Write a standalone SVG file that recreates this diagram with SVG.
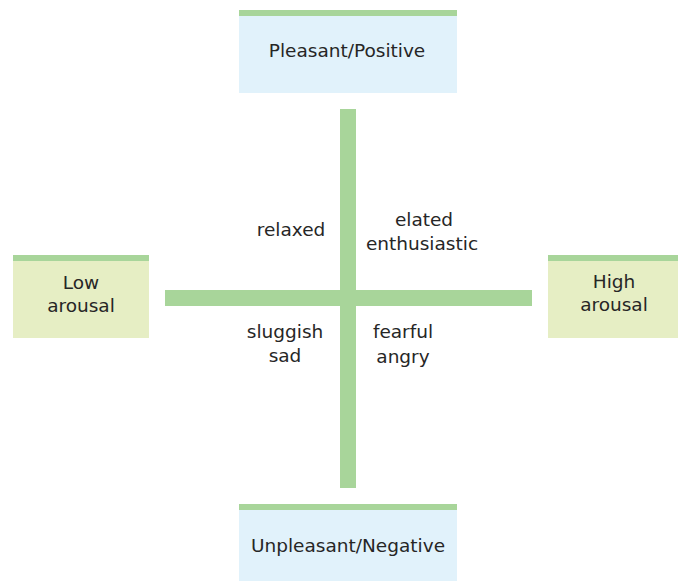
<svg xmlns="http://www.w3.org/2000/svg" width="678" height="581" viewBox="0 0 678 581">
<style>
text{font-family:"DejaVu Sans","Liberation Sans",sans-serif;font-size:18.5px;fill:#262626;text-anchor:middle}
.bar{fill:#A8D59A}
.blue{fill:#E1F2FB}
.ylw{fill:#E6EEC4}
</style>
<rect width="678" height="581" fill="#fff"/>
<g id="connectors">
<rect class="bar" x="340" y="109" width="16" height="379"/>
<rect class="bar" x="165" y="290" width="367" height="16"/>
</g>
<g id="top">
<rect class="blue" x="239" y="10" width="218" height="83"/>
<rect class="bar" x="239" y="10" width="218" height="6"/>
<text x="347" y="57">Pleasant/Positive</text>
</g>
<g id="bottom">
<rect class="blue" x="239" y="504" width="218" height="77"/>
<rect class="bar" x="239" y="504" width="218" height="6"/>
<text x="348" y="552">Unpleasant/Negative</text>
</g>
<g id="left">
<rect class="ylw" x="13" y="255" width="136" height="83"/>
<rect class="bar" x="13" y="255" width="136" height="6"/>
<text x="81" y="289">Low</text>
<text x="81" y="312">arousal</text>
</g>
<g id="right">
<rect class="ylw" x="548" y="255" width="130" height="83"/>
<rect class="bar" x="548" y="255" width="130" height="6"/>
<text x="614" y="288">High</text>
<text x="614" y="311">arousal</text>
</g>
<g id="q1">
<text x="291" y="236">relaxed</text>
</g>
<g id="q2">
<text x="424" y="226">elated</text>
<text x="422" y="250">enthusiastic</text>
</g>
<g id="q3">
<text x="285" y="338">sluggish</text>
<text x="285" y="362">sad</text>
</g>
<g id="q4">
<text x="403" y="338">fearful</text>
<text x="403" y="363">angry</text>
</g>
</svg>
